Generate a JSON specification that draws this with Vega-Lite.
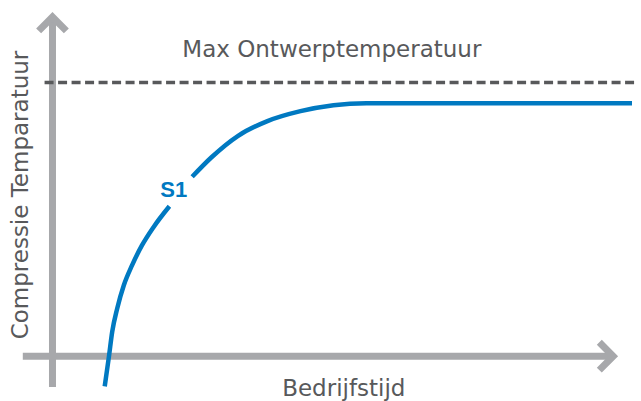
{
  "$schema": "https://vega.github.io/schema/vega-lite/v6.json",
  "width": 641,
  "height": 401,
  "padding": 0,
  "autosize": {"type": "fit", "contains": "padding"},
  "background": "white",
  "config": {"view": {"stroke": null}},
  "datasets": {
    "axes": [
      {"part": "yaxis", "t": 0, "T": -0.896, "k": 1},
      {"part": "yaxis", "t": 0, "T": 9.855, "k": 2},
      {"part": "yarrow", "t": -0.245, "T": 9.451, "k": 1},
      {"part": "yarrow", "t": 0, "T": 9.855, "k": 2},
      {"part": "yarrow", "t": 0.245, "T": 9.451, "k": 3},
      {"part": "xaxis", "t": -0.525, "T": 0, "k": 1},
      {"part": "xaxis", "t": 9.912, "T": 0, "k": 2},
      {"part": "xarrow", "t": 9.667, "T": 0.405, "k": 1},
      {"part": "xarrow", "t": 9.912, "T": 0, "k": 2},
      {"part": "xarrow", "t": 9.667, "T": -0.405, "k": 3}
    ],
    "curve": [
      {"seg": "a", "t": 0.923, "T": -0.876},
      {"seg": "a", "t": 0.998, "T": -0.009},
      {"seg": "a", "t": 1.056, "T": 0.714},
      {"seg": "a", "t": 1.144, "T": 1.387},
      {"seg": "a", "t": 1.261, "T": 2.061},
      {"seg": "a", "t": 1.406, "T": 2.639},
      {"seg": "a", "t": 1.581, "T": 3.217},
      {"seg": "a", "t": 1.786, "T": 3.749},
      {"seg": "a", "t": 2.067, "T": 4.355},
      {"seg": "b", "t": 2.469, "T": 5.211},
      {"seg": "b", "t": 2.807, "T": 5.772},
      {"seg": "b", "t": 3.275, "T": 6.396},
      {"seg": "b", "t": 3.8, "T": 6.829},
      {"seg": "b", "t": 4.384, "T": 7.118},
      {"seg": "b", "t": 4.968, "T": 7.292},
      {"seg": "b", "t": 5.552, "T": 7.35},
      {"seg": "b", "t": 10.245, "T": 7.35}
    ],
    "maxline": [{"t1": -0.14, "t2": 10.298, "T": 7.948}],
    "labels": [
      {"txt": "Max Ontwerptemperatuur", "t": 4.939, "T": 8.699},
      {"txt": "Bedrijfstijd", "t": 5.15, "T": -1.156}
    ],
    "ylabel": [{"txt": "Compressie Temparatuur", "t": -0.438, "T": 4.682}],
    "series": [{"txt": "S1", "t": 2.145, "T": 4.624}]
  },
  "layer": [
    {
      "data": {"name": "axes"},
      "mark": {"type": "line", "color": "#A7A8AB", "strokeWidth": 7, "strokeJoin": "miter", "strokeCap": "butt"},
      "encoding": {
        "x": {"field": "t", "type": "quantitative", "axis": null, "scale": {"domain": [-0.928, 10.298], "nice": false, "zero": false}},
        "y": {"field": "T", "type": "quantitative", "axis": null, "scale": {"domain": [-1.243, 10.347], "nice": false, "zero": false}},
        "detail": {"field": "part"},
        "order": {"field": "k"}
      }
    },
    {
      "data": {"name": "maxline"},
      "mark": {"type": "rule", "color": "#58595B", "strokeWidth": 3.5, "strokeDash": [9, 4.5]},
      "encoding": {
        "x": {"field": "t1", "type": "quantitative"},
        "x2": {"field": "t2"},
        "y": {"field": "T", "type": "quantitative"}
      }
    },
    {
      "data": {"name": "curve"},
      "mark": {"type": "line", "color": "#0079C1", "strokeWidth": 4.5, "interpolate": "monotone", "strokeCap": "butt"},
      "encoding": {
        "x": {"field": "t", "type": "quantitative"},
        "y": {"field": "T", "type": "quantitative"},
        "detail": {"field": "seg"}
      }
    },
    {
      "data": {"name": "labels"},
      "mark": {"type": "text", "font": "DejaVu Sans", "fontSize": 23, "color": "#58595B", "align": "center", "baseline": "alphabetic"},
      "encoding": {
        "x": {"field": "t", "type": "quantitative"},
        "y": {"field": "T", "type": "quantitative"},
        "text": {"field": "txt"}
      }
    },
    {
      "data": {"name": "ylabel"},
      "mark": {"type": "text", "font": "DejaVu Sans", "fontSize": 23, "color": "#58595B", "align": "center", "baseline": "alphabetic", "angle": 270},
      "encoding": {
        "x": {"field": "t", "type": "quantitative"},
        "y": {"field": "T", "type": "quantitative"},
        "text": {"field": "txt"}
      }
    },
    {
      "data": {"name": "series"},
      "mark": {"type": "text", "font": "Liberation Sans", "fontWeight": "bold", "fontSize": 22, "color": "#0079C1", "align": "center", "baseline": "alphabetic"},
      "encoding": {
        "x": {"field": "t", "type": "quantitative"},
        "y": {"field": "T", "type": "quantitative"},
        "text": {"field": "txt"}
      }
    }
  ]
}
